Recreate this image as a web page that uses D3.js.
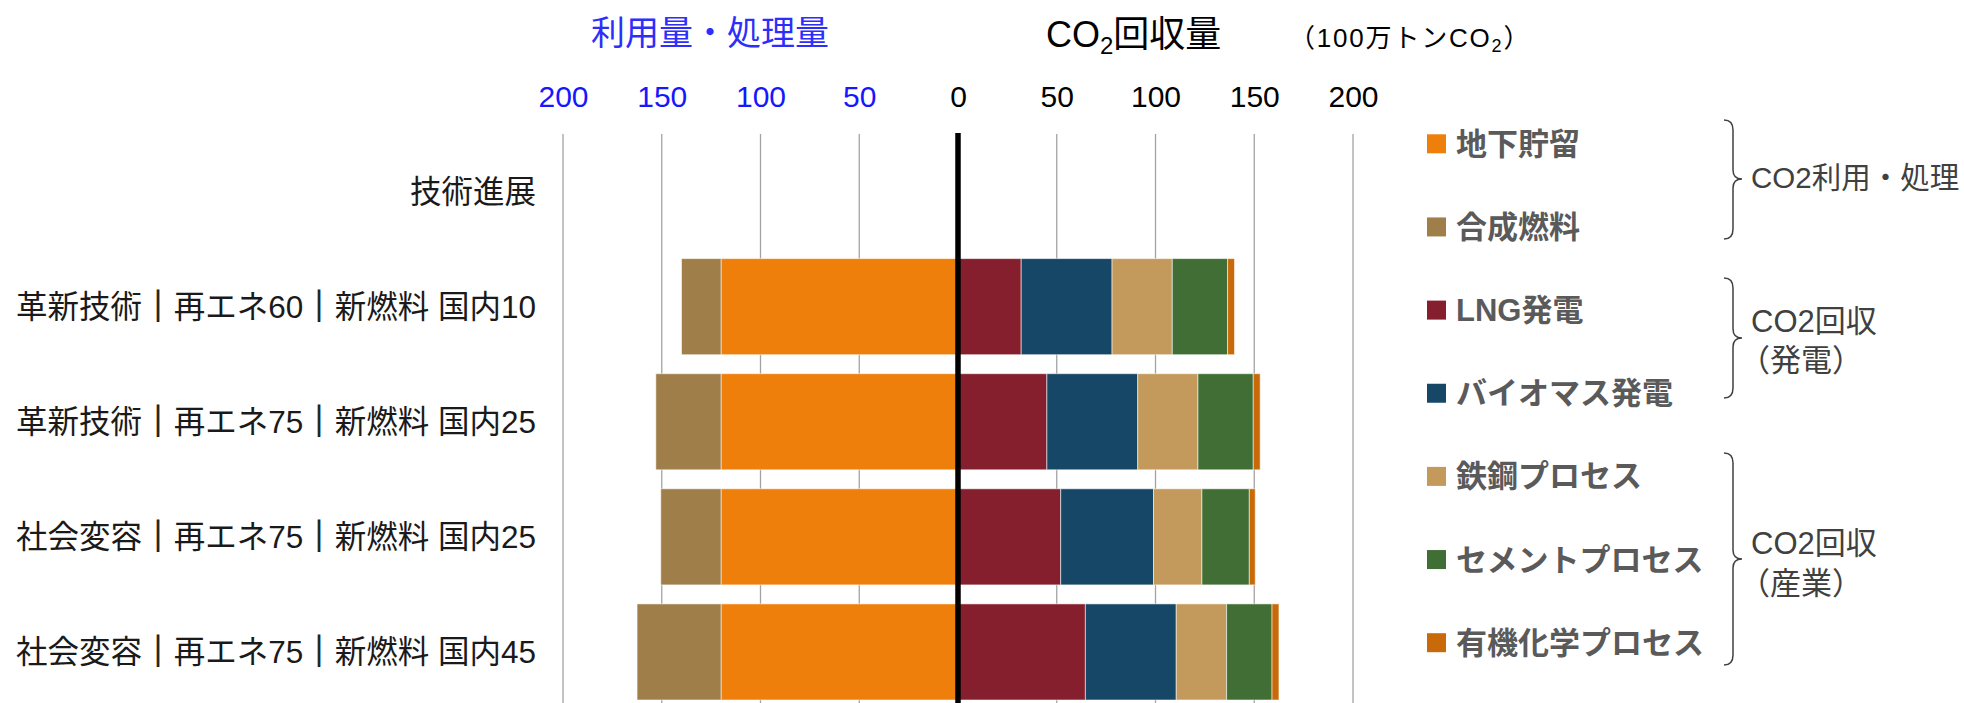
<!DOCTYPE html>
<html lang="ja">
<head>
<meta charset="utf-8">
<script src="https://cdn.jsdelivr.net/npm/d3@7/dist/d3.min.js"></script>
<style>
  html, body { margin: 0; padding: 0; background: #ffffff; overflow: hidden; }
  svg { display: block; font-family: "Liberation Sans", "Noto Sans CJK JP", sans-serif; }
</style>
</head>
<body>
<svg id="chart" width="1964" height="703"></svg>
<script>
// Scenario rows (the first row is a header with no bars)
const categories = [
  "技術進展",
  "革新技術｜再エネ60｜新燃料 国内10",
  "革新技術｜再エネ75｜新燃料 国内25",
  "社会変容｜再エネ75｜新燃料 国内25",
  "社会変容｜再エネ75｜新燃料 国内45"
];
const scenarios = categories.slice(1);

// Utilisation / disposal (drawn to the left), 100万トンCO2
const storage   = [120, 120, 120, 120];   // 地下貯留
const synfuel   = [20, 33, 30.5, 42.5];    // 合成燃料

// Capture (drawn to the right), 100万トンCO2
const lngPower  = [32, 45, 52, 64.5];      // LNG発電
const bioPower  = [46, 46, 47, 46];        // バイオマス発電
const steel     = [30.5, 30.5, 24.5, 25.5];// 鉄鋼プロセス
const cement    = [28, 28, 24, 23];        // セメントプロセス
const organic   = [3.5, 3.5, 3, 3.5];      // 有機化学プロセス

const tickValues = [-200, -150, -100, -50, 0, 50, 100, 150, 200];

const seriesNames = ["地下貯留", "合成燃料", "LNG発電", "バイオマス発電", "鉄鋼プロセス", "セメントプロセス", "有機化学プロセス"];
const seriesColors = ["#ef7f0b", "#9f7e4a", "#861f2d", "#174766", "#c39a5c", "#416e35", "#c96a0a"];

const groupLabels = [
  ["CO2利用・処理"],
  ["CO2回収", "（発電）"],
  ["CO2回収", "（産業）"]
];

// ---------- layout ----------
const svg = d3.select("#chart");
const plotTop = 134, plotBottom = 709.5;

const x = d3.scaleLinear().domain([-200, 200]).range([563, 1353]);
const y = d3.scaleBand().domain(categories).range([plotTop, plotBottom])
  .paddingInner(0.165).paddingOuter(0.0825);
const color = d3.scaleOrdinal().domain(seriesNames).range(seriesColors);

// table for stacking: left-hand series as negative values
const table = scenarios.map((s, i) => ({
  scenario: s,
  "地下貯留": -storage[i],
  "合成燃料": -synfuel[i],
  "LNG発電": lngPower[i],
  "バイオマス発電": bioPower[i],
  "鉄鋼プロセス": steel[i],
  "セメントプロセス": cement[i],
  "有機化学プロセス": organic[i]
}));
const stacked = d3.stack().keys(seriesNames).offset(d3.stackOffsetDiverging)(table);

// ---------- gridlines ----------
svg.append("g").selectAll("line")
  .data(tickValues.filter(v => v !== 0))
  .join("line")
  .attr("x1", d => x(d)).attr("x2", d => x(d))
  .attr("y1", plotTop).attr("y2", 703)
  .attr("stroke", "#a3a3a3").attr("stroke-width", 1.3);

// ---------- bars ----------
svg.append("g").selectAll("g")
  .data(stacked)
  .join("g")
  .attr("fill", d => color(d.key))
  .selectAll("rect")
  .data(d => d)
  .join("rect")
  .attr("x", d => x(Math.min(d[0], d[1])))
  .attr("width", d => Math.abs(x(d[1]) - x(d[0])))
  .attr("y", d => y(d.data.scenario))
  .attr("height", y.bandwidth())
  .attr("stroke", "rgba(255,255,255,0.55)")
  .attr("stroke-width", 1);

// ---------- zero line ----------
svg.append("line")
  .attr("x1", x(0)).attr("x2", x(0))
  .attr("y1", 133).attr("y2", 703)
  .attr("stroke", "#000").attr("stroke-width", 5.5);

// ---------- top axis (tick labels) ----------
const axis = d3.axisTop(x).tickValues(tickValues).tickSize(0).tickPadding(0)
  .tickFormat(d => Math.abs(d));
const axisG = svg.append("g").attr("transform", "translate(0,107)").call(axis);
axisG.select(".domain").remove();
axisG.selectAll("text")
  .attr("font-family", "\"Liberation Sans\", \"Noto Sans CJK JP\", sans-serif")
  .attr("font-size", 30)
  .attr("fill", d => d < 0 ? "#1616ff" : "#000");

// ---------- titles ----------
svg.append("text")
  .attr("x", 710).attr("y", 45)
  .attr("text-anchor", "middle")
  .attr("font-size", 34)
  .attr("fill", "#2e2efa")
  .text("利用量・処理量");

const t2 = svg.append("text").attr("x", 1046).attr("y", 46.5).attr("font-size", 36).attr("fill", "#000");
t2.append("tspan").text("CO");
t2.append("tspan").attr("font-size", 24).attr("dy", 7).text("2");
t2.append("tspan").attr("dy", -7).text("回収量");

const t3 = svg.append("text").attr("x", 1289).attr("y", 46.5).attr("font-size", 26)
  .attr("letter-spacing", 1.8).attr("fill", "#000");
t3.append("tspan").text("（100万トンCO");
t3.append("tspan").attr("font-size", 18).attr("dy", 5).text("2");
t3.append("tspan").attr("dy", -5).text("）");

// ---------- category labels (the ｜ separators drawn heavier) ----------
const catLabels = svg.append("g").selectAll("text")
  .data(categories)
  .join("text")
  .attr("x", 536)
  .attr("y", d => y(d) + y.bandwidth() / 2 + 11)
  .attr("text-anchor", "end")
  .attr("font-size", 31.5)
  .attr("fill", "#1a1a1a");
catLabels.selectAll("tspan")
  .data(d => d.split(/(｜)/).filter(s => s.length))
  .join("tspan")
  .attr("font-weight", s => s === "｜" ? 900 : null)
  .attr("stroke", s => s === "｜" ? "#1a1a1a" : null)
  .attr("stroke-width", s => s === "｜" ? 1 : null)
  .text(s => s);

// ---------- legend ----------
const legendY = d3.scalePoint().domain(seriesNames).range([143.8, 642.7]);
const legend = svg.append("g").selectAll("g")
  .data(seriesNames)
  .join("g")
  .attr("transform", d => `translate(1427,${legendY(d)})`);
legend.append("rect")
  .attr("x", 0).attr("y", -9.5).attr("width", 19).attr("height", 19)
  .attr("fill", d => color(d));
legend.append("text")
  .attr("x", 29).attr("y", 11)
  .attr("font-size", 31)
  .attr("font-weight", 700)
  .attr("fill", "#5a5a5a")
  .text(d => d);

// ---------- braces and group labels ----------
const braces = [
  { top: 120, tip: 179, bottom: 239, lines: [188] },
  { top: 278, tip: 338, bottom: 398, lines: [332, 371] },
  { top: 453, tip: 559, bottom: 665, lines: [554, 594] }
];
const bx0 = 1724, bx1 = 1733, bx2 = 1742;
function bracePath(b) {
  return `M${bx0},${b.top} Q${bx1},${b.top} ${bx1},${b.top + 10} ` +
         `L${bx1},${b.tip - 9} Q${bx1},${b.tip} ${bx2},${b.tip} ` +
         `Q${bx1},${b.tip} ${bx1},${b.tip + 9} ` +
         `L${bx1},${b.bottom - 10} Q${bx1},${b.bottom} ${bx0},${b.bottom}`;
}
svg.append("g").selectAll("path")
  .data(braces)
  .join("path")
  .attr("d", bracePath)
  .attr("fill", "none")
  .attr("stroke", "#404040")
  .attr("stroke-width", 1.5);

braces.forEach((b, gi) => {
  groupLabels[gi].forEach((line, li) => {
    svg.append("text")
      .attr("x", line.startsWith("（") ? 1739 : 1751)
      .attr("y", b.lines[li])
      // the long single-line label is set slightly smaller so it stays inside the edge
      .attr("font-size", line.length > 6 ? 29.5 : 31)
      .attr("fill", "#404040")
      .text(line);
  });
});
</script>
</body>
</html>
